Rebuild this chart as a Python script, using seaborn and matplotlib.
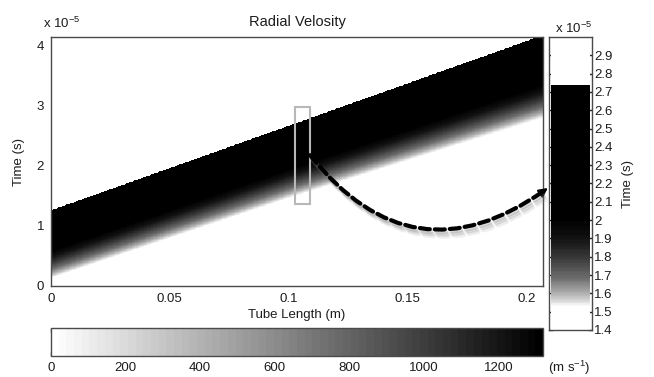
import numpy as np
import matplotlib
matplotlib.use("Agg")
import matplotlib.pyplot as plt
import matplotlib.patches as patches
import matplotlib.patheffects as pe
import seaborn as sns

# axis ticks (time in units of 1e-5 s)
x_ticks = [0, 0.05, 0.1, 0.15, 0.2]
x_tick_labels = ["0", "0.05", "0.1", "0.15", "0.2"]
t_ticks = [0, 1, 2, 3, 4]
inset_ticks = [1.4, 1.5, 1.6, 1.7, 1.8, 1.9, 2.0, 2.1, 2.2, 2.3, 2.4, 2.5, 2.6, 2.7, 2.8, 2.9]
speed_ticks = [0, 200, 400, 600, 800, 1000, 1200]

x_max, t_max, v_max = 0.207, 4.15, 1320
inset_t = [1.4, 3.0]
inset_x = 0.105

# wave front (sharp upper edge) read at the two ends of the tube
front_x = [0.0, 0.207]
front_t = [1.26, 4.18]
# how much the tail stretches along the tube
spread_x = [0.0, 0.1, 0.207]
spread_f = [1.0, 1.07, 1.22]
# velocity behind the front (lag in 1e-5 s) at x = 0
profile_lag = [0.0, 0.55, 0.68, 0.78, 0.88, 0.98, 1.06, 1.13]
profile_v = [1320, 1320, 1310, 1220, 1020, 760, 420, 0]

# grey box on the main plot and the arrow height
rect_x = [0.1025, 0.109]
rect_t = [1.36, 2.98]
arrow_t = 2.18

dx, dt, dt_in = 0.0005, 0.01, 0.005


def velocity(x, t):
    front = np.interp(x, front_x, front_t)
    spread = np.interp(x, spread_x, spread_f)
    lag = (front[None, :] - t[:, None]) / spread[None, :]
    return np.interp(lag, profile_lag, profile_v, left=0, right=0)


nx, nt = int(round(x_max / dx)), int(round(t_max / dt))
xs = (np.arange(nx) + 0.5) * dx
ts = (np.arange(nt) + 0.5) * dt
field = velocity(xs, ts)

n_in = int(round((inset_t[1] - inset_t[0]) / dt_in))
ts_in = inset_t[0] + (np.arange(n_in) + 0.5) * dt_in
column = velocity(np.array([inset_x]), ts_in)

sns.set_style("white")
plt.rcParams["font.family"] = ["Liberation Sans", "DejaVu Sans"]
plt.rcParams["mathtext.fontset"] = "custom"
plt.rcParams["mathtext.rm"] = "Liberation Sans"
txt = "#1c1c1c"
edge = "#4a4a4a"
fs = 9.5

cmap = plt.get_cmap("gray_r", 64)
fig = plt.figure(figsize=(6.54, 3.77), dpi=100)
ax = fig.add_axes([51 / 654, 1 - 286 / 377, 492 / 654, 249 / 377])
cax = fig.add_axes([51 / 654, 1 - 356 / 377, 492 / 654, 28 / 377])
axi = fig.add_axes([549 / 654, 1 - 330 / 377, 43 / 654, 293 / 377])

sns.heatmap(field, ax=ax, cmap=cmap, vmin=0, vmax=v_max, cbar_ax=cax,
            cbar_kws={"orientation": "horizontal", "ticks": speed_ticks},
            xticklabels=False, yticklabels=False, rasterized=True)
ax.set_xlim(0, nx)
ax.set_ylim(0, nt)
ax.set_xticks(np.array(x_ticks) / dx, x_tick_labels)
ax.set_yticks(np.array(t_ticks) / dt, [str(v) for v in t_ticks], rotation=0)
ax.tick_params(length=0, labelsize=fs, labelcolor=txt, pad=5)
for s in ax.spines.values():
    s.set_visible(True)
    s.set_color(edge)
    s.set_linewidth(1)
ax.set_xlabel("Tube Length (m)", fontsize=fs, color=txt, labelpad=3)
ax.set_ylabel("Time (s)", fontsize=fs, color=txt, labelpad=8)
ax.set_title("Radial Velosity", fontsize=10.5, color=txt, pad=8)
fig.text(43 / 654, 1 - 23 / 377, r"x 10$^{\mathregular{-5}}$", fontsize=fs,
         color=txt, ha="left", va="center")

ax.add_patch(patches.Rectangle(
    (rect_x[0] / dx, rect_t[0] / dt), (rect_x[1] - rect_x[0]) / dx,
    (rect_t[1] - rect_t[0]) / dt, fill=False, edgecolor="#b8b8b8", lw=1.5))

cb = ax.collections[0].colorbar
cb.outline.set_linewidth(1)
cb.outline.set_edgecolor(edge)
cax.tick_params(direction="in", top=True, bottom=True, length=3, width=1,
                color="#222222", labelsize=fs, labelcolor=txt, pad=4.5)
cax.text(1.01, -0.43, r"(m s$^{\mathregular{-1}}$)", transform=cax.transAxes,
         fontsize=fs, color=txt, ha="left", va="center")

sns.heatmap(column, ax=axi, cmap=cmap, vmin=0, vmax=v_max, cbar=False,
            xticklabels=False, yticklabels=False, rasterized=True)
axi.set_xlim(-0.05, 1.05)
axi.set_ylim(0, n_in)
axi.set_xticks([])
axi.set_yticks((np.array(inset_ticks) - inset_t[0]) / dt_in,
               [f"{v:g}" for v in inset_ticks], rotation=0)
axi.tick_params(axis="y", direction="in", left=True, right=True,
                labelleft=False, labelright=True, length=3, width=1,
                color="#222222", labelsize=fs, labelcolor=txt, pad=1.5)
for s in axi.spines.values():
    s.set_visible(True)
    s.set_color(edge)
    s.set_linewidth(1)
axi.yaxis.set_label_position("right")
axi.set_ylabel("Time (s)", fontsize=fs, color=txt, labelpad=7)
fig.text(555 / 654, 1 - 28 / 377, r"x 10$^{\mathregular{-5}}$", fontsize=fs,
         color=txt, ha="left", va="center")

# dashed curved arrow from the grey box to the inset
start = (rect_x[1] / dx, arrow_t / dt)
end = (-0.05, (arrow_t - inset_t[0]) / dt_in)
con = patches.ConnectionPatch(xyA=start, coordsA="data", axesA=ax,
                              xyB=end, coordsB="data", axesB=axi,
                              arrowstyle="-", connectionstyle="arc3,rad=0.48",
                              lw=3, linestyle=(0, (2.4, 1.2)), color="black",
                              shrinkA=0, shrinkB=4)
con.set_path_effects([
    pe.SimpleLineShadow(offset=(1, -2), shadow_color="0.45", alpha=0.25),
    pe.SimpleLineShadow(offset=(2, -3.5), shadow_color="0.45", alpha=0.2),
    pe.SimpleLineShadow(offset=(3, -5), shadow_color="0.45", alpha=0.12),
    pe.Normal()])
fig.add_artist(con)
axi.annotate("", xy=end, xycoords="data", xytext=(-7.3, -5.3),
             textcoords="offset points", annotation_clip=False,
             arrowprops=dict(arrowstyle="-|>", color="black", lw=1.5,
                             mutation_scale=13, shrinkA=0, shrinkB=1))

fig.savefig("out.png", dpi=100)
